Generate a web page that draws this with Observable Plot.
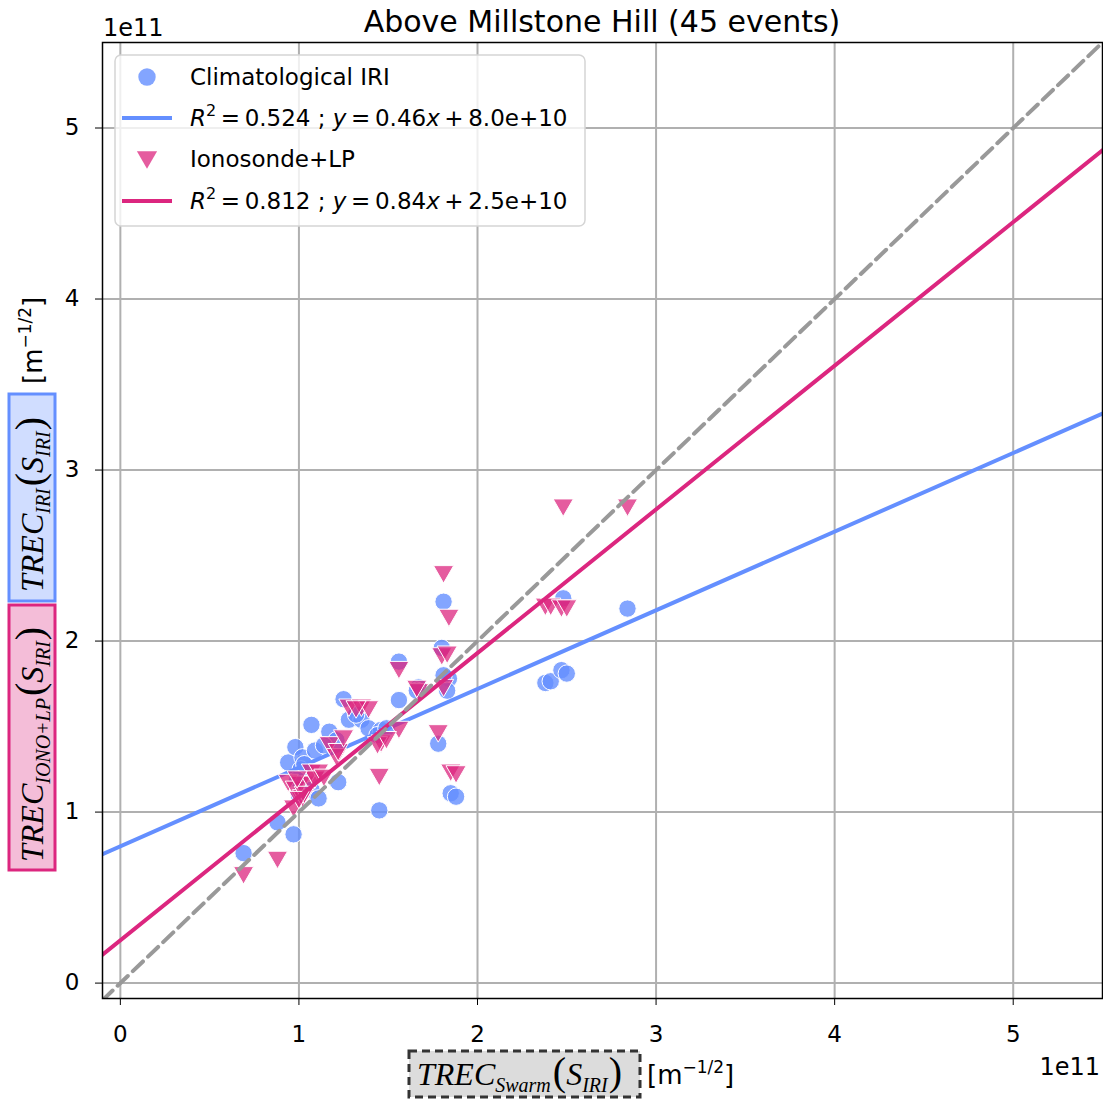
<!DOCTYPE html>
<html>
<head>
<meta charset="utf-8">
<script src="https://cdn.jsdelivr.net/npm/d3@7"></script>
<script src="https://cdn.jsdelivr.net/npm/@observablehq/plot@0.6"></script>
<style>
  html, body { margin: 0; padding: 0; background: white; }
  #chart svg { display: block; }
</style>
</head>
<body>
<div id="chart"></div>
<script>
// ---- Data (units of 1e11 m^-1/2) ----
const swarm = [0.69, 0.88, 0.97, 0.94, 0.98, 1.02, 1.01, 1.07, 1.07, 1.11, 1.09, 1.17, 1.21, 1.22, 1.25, 1.28, 1.35, 1.39, 1.46, 1.44, 1.45, 1.56, 1.56, 1.67, 1.78, 1.80, 1.81, 1.84, 1.81, 1.85, 1.88, 2.38, 2.41, 2.47, 2.50, 2.48, 2.84, 1.03, 0.99, 1.14, 1.32, 1.49, 1.83, 1.00, 1.66];
const iri   = [0.76, 0.94, 0.87, 1.29, 1.38, 1.32, 1.25, 1.13, 1.51, 1.08, 1.36, 1.47, 1.42, 1.175, 1.66, 1.54, 1.54, 1.49, 1.48, 1.45, 1.01, 1.88, 1.655, 1.73, 1.40, 1.96, 2.23, 1.78, 1.80, 1.11, 1.09, 1.755, 1.765, 1.83, 1.81, 2.25, 2.19, 1.28, 1.19, 1.39, 1.57, 1.49, 1.71, 1.10, 1.71];
const iono  = [0.63, 0.72, 1.02, 1.17, 1.13, 1.08, 1.16, 1.16, 1.23, 1.23, 1.19, 1.39, 1.32, 1.35, 1.43, 1.61, 1.61, 1.60, 1.40, 1.39, 1.205, 1.83, 1.48, 1.70, 1.46, 1.91, 2.39, 2.135, 1.725, 1.23, 1.22, 2.20, 2.20, 2.19, 2.19, 2.78, 2.78, 1.10, 1.19, 1.20, 1.60, 1.42, 1.92, 1.07, 1.72];

// Regression fits (from legend): slope, intercept (in 1e11)
const iriFit  = {slope: 0.46, intercept: 0.80, r2: "0.524", label: "8.0e+10"};
const ionoFit = {slope: 0.84, intercept: 0.25, r2: "0.812", label: "2.5e+10"};

const xTicks = [0, 1, 2, 3, 4, 5];
const yTicks = [0, 1, 2, 3, 4, 5];
const xDomain = [-0.1, 5.5];
const yDomain = [-0.09, 5.5];

const titleText = "Above Millstone Hill (45 events)";
const legendLabels = ["Climatological IRI", "Ionosonde+LP"];

const BLUE = "#648FFF", PINK = "#DC267F";

const events = swarm.map((x, i) => ({x, iri: iri[i], iono: iono[i]}));
const fitLine = (f) => xDomain.map(x => ({x, y: f.slope * x + f.intercept}));
const identity = xDomain.map(x => ({x, y: x}));

const triDown = {
  draw(ctx, size) {
    const s = Math.sqrt(4 * size / Math.sqrt(3));
    const h = s * Math.sqrt(3) / 2;
    ctx.moveTo(-s / 2, -h / 2);
    ctx.lineTo(s / 2, -h / 2);
    ctx.lineTo(0, h / 2);
    ctx.closePath();
  }
};

const W = 1103, H = 1101;
const chart = Plot.plot({
  width: W, height: H,
  marginLeft: 102, marginRight: 1, marginTop: 42, marginBottom: 103,
  x: {domain: xDomain},
  y: {domain: yDomain},
  style: {fontFamily: "DejaVu Sans", fontSize: "23px", color: "#000", background: "white", overflow: "visible"},
  marks: [
    Plot.gridX(xTicks, {stroke: "#b0b0b0", strokeOpacity: 1, strokeWidth: 2}),
    Plot.gridY(yTicks, {stroke: "#b0b0b0", strokeOpacity: 1, strokeWidth: 2}),
    Plot.dot(events, {x: "x", y: "iri", r: 8.7, fill: BLUE, fillOpacity: 0.8, stroke: "white", strokeWidth: 1}),
    Plot.line(fitLine(iriFit), {x: "x", y: "y", stroke: BLUE, strokeWidth: 4, clip: true}),
    Plot.dot(events, {x: "x", y: "iono", r: 7.5, symbol: triDown, fill: PINK, fillOpacity: 0.75, stroke: "white", strokeWidth: 1}),
    Plot.line(fitLine(ionoFit), {x: "x", y: "y", stroke: PINK, strokeWidth: 4, clip: true}),
    Plot.line(identity, {x: "x", y: "y", stroke: "#999999", strokeWidth: 4, strokeDasharray: "14,7", clip: true}),
    Plot.frame({stroke: "black", strokeWidth: 1.5}),
    Plot.axisX(xTicks, {tickSize: 7, tickPadding: 20, label: null, fontSize: 23, stroke: "black", tickFormat: d3.format("d")}),
    Plot.axisY(yTicks, {tickSize: 7, tickPadding: 16, label: null, fontSize: 23, stroke: "black", tickFormat: d3.format("d")})
  ]
});
document.getElementById("chart").appendChild(chart);

const svg = d3.select(chart);
const ann = svg.append("g").attr("text-anchor", "start").attr("font-family", "DejaVu Sans").attr("fill", "#000");

// Title
ann.append("text").attr("x", 602).attr("y", 32).attr("text-anchor", "middle")
  .attr("font-size", 30).text(titleText);

// Offset labels
ann.append("text").attr("x", 103).attr("y", 36).attr("font-size", 24).text("1e11");
ann.append("text").attr("x", 1100).attr("y", 1075).attr("text-anchor", "end").attr("font-size", 24).text("1e11");

// Legend
const lg = ann.append("g");
lg.append("rect").attr("x", 115).attr("y", 55).attr("width", 470).attr("height", 171).attr("rx", 6)
  .attr("fill", "white").attr("fill-opacity", 0.8).attr("stroke", "#d5d5d5").attr("stroke-width", 1.5);
lg.append("circle").attr("cx", 147).attr("cy", 77).attr("r", 8.7).attr("fill", BLUE).attr("fill-opacity", 0.8);
lg.append("line").attr("x1", 122).attr("x2", 172).attr("y1", 118).attr("y2", 118).attr("stroke", BLUE).attr("stroke-width", 4);
lg.append("path").attr("transform", "translate(147,160)").attr("d", d3.symbol(triDown, Math.PI * 7.5 * 7.5)()).attr("fill", PINK).attr("fill-opacity", 0.75);
lg.append("line").attr("x1", 122).attr("x2", 172).attr("y1", 201).attr("y2", 201).attr("stroke", PINK).attr("stroke-width", 4);

function legText(y, str) {
  return lg.append("text").attr("x", 190).attr("y", y).attr("font-size", 23).text(str);
}
legText(85, legendLabels[0]);
legText(167, legendLabels[1]);
function mathText(y, f) {
  const t = lg.append("text").attr("x", 190).attr("y", y).attr("font-size", 23).attr("xml:space", "preserve");
  t.append("tspan").attr("font-style", "italic").text("R");
  t.append("tspan").attr("font-size", 16).attr("dy", -10).text("2");
  t.append("tspan").attr("dy", 10).text(`\u2009=\u2009${f.r2} ; `);
  t.append("tspan").attr("font-style", "italic").text("y");
  t.append("tspan").text(`\u2009=\u2009${f.slope.toFixed(2)}`);
  t.append("tspan").attr("font-style", "italic").text("x");
  t.append("tspan").text(`\u2009+\u2009${f.label}`);
}
mathText(126, iriFit);
mathText(209, ionoFit);

// Serif math label helper (horizontal, anchored at start x,y baseline)
function trecLabel(g, sub) {
  const t = g.append("text").attr("font-family", "Liberation Serif").attr("fill", "#000").attr("font-size", 32).attr("text-anchor", "start");
  t.append("tspan").attr("font-style", "italic").text("TREC");
  t.append("tspan").attr("font-style", "italic").attr("font-size", 20).attr("dy", 7).text(sub);
  t.append("tspan").attr("font-size", 40).attr("dy", -7).attr("dx", 2).text("(");
  t.append("tspan").attr("font-style", "italic").attr("font-size", 32).text("S");
  t.append("tspan").attr("font-style", "italic").attr("font-size", 20).attr("dy", 7).text("IRI");
  t.append("tspan").attr("font-size", 40).attr("dy", -7).attr("dx", 1).text(")");
  return t;
}

// Y label: rotated pieces
const yl = ann.append("g").attr("transform", "translate(32,870) rotate(-90)");
yl.append("rect").attr("x", 0).attr("y", -23).attr("width", 265).attr("height", 46)
  .attr("fill", PINK).attr("fill-opacity", 0.3).attr("stroke", PINK).attr("stroke-width", 3).attr("stroke-opacity", 1);
trecLabel(yl.append("g").attr("transform", "translate(8,11)"), "IONO+LP");
yl.append("rect").attr("x", 269).attr("y", -23).attr("width", 207).attr("height", 46)
  .attr("fill", BLUE).attr("fill-opacity", 0.3).attr("stroke", BLUE).attr("stroke-width", 3);
trecLabel(yl.append("g").attr("transform", "translate(278,11)"), "IRI");
const yu = yl.append("text").attr("x", 486).attr("y", 10).attr("font-size", 26);
yu.append("tspan").text("[m");
yu.append("tspan").attr("font-size", 17).attr("dy", -11).text("\u22121/2");
yu.append("tspan").attr("dy", 11).text("]");

// X label
const xl = ann.append("g");
xl.append("rect").attr("x", 409).attr("y", 1051).attr("width", 231).attr("height", 46)
  .attr("fill", "#dcdcdc").attr("stroke", "#333").attr("stroke-width", 3).attr("stroke-dasharray", "8,5");
trecLabel(xl.append("g").attr("transform", "translate(417,1085)"), "Swarm");
const xu = xl.append("text").attr("x", 647).attr("y", 1084).attr("font-size", 26);
xu.append("tspan").text("[m");
xu.append("tspan").attr("font-size", 17).attr("dy", -11).text("\u22121/2");
xu.append("tspan").attr("dy", 11).text("]");
</script>
</body>
</html>
